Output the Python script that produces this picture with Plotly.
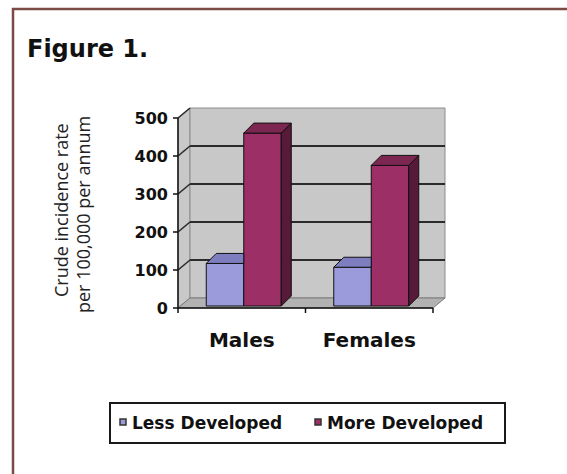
import plotly.graph_objects as go

# ---- data ----
categories = ["Males", "Females"]
series_names = ["Less Developed", "More Developed"]
less_developed = [112, 102]
more_developed = [455, 370]
y_ticks = [0, 100, 200, 300, 400, 500]
y_title_lines = ["Crude incidence rate", "per 100,000 per annum"]
figure_title = "Figure 1."

series_values = [less_developed, more_developed]

# ---- styling ----
FRONT = ["#9b9bdb", "#9b2f66"]
TOP = ["#7d7dbf", "#7c2652"]
SIDE = ["#60609c", "#571a39"]
WALL = "#c8c8c8"
FLOOR = "#b2b2b2"
EDGE = "#111111"
BOLD_FONT = "DejaVu Sans"

W, H = 567, 474
# plot area (pixels)
PL, PR, PT, PB = 171, 460, 100, 316
# front-plane geometry (pixels)
AXIS_LEFT_PX = 178
CAT_PX = 127.5
Y0_PX = 308
PX_PER_UNIT = 0.38

x_range = [(PL - AXIS_LEFT_PX) / CAT_PX - 0.5, (PR - AXIS_LEFT_PX) / CAT_PX - 0.5]
y_range = [(Y0_PX - PB) / PX_PER_UNIT, (Y0_PX - PT) / PX_PER_UNIT]


def dxu(px):
    return px / CAT_PX


def dyu(px):
    return px / PX_PER_UNIT


def paper_x(px):
    return (px - PL) / (PR - PL)


def paper_y(py):
    return (PB - py) / (PB - PT)


# depth of the walls and of the columns
WALL_DX, WALL_DY = dxu(12), dyu(10)
BAR_OFF_X, BAR_OFF_Y = dxu(2), dyu(2)
BAR_DX, BAR_DY = dxu(10), dyu(10)
BAR_W = dxu(37.5)

XL, XR = -0.5, len(categories) - 0.5
YTOP = y_ticks[-1]

fig = go.Figure()
shapes = []

# side wall, back wall and floor
shapes.append(dict(type="path", layer="below", xref="x", yref="y",
                   path=f"M{XL},0 L{XL},{YTOP} L{XL + WALL_DX},{YTOP + WALL_DY} L{XL + WALL_DX},{WALL_DY} Z",
                   fillcolor=WALL, line=dict(color="#8c8c8c", width=1)))
shapes.append(dict(type="rect", layer="below", xref="x", yref="y",
                   x0=XL + WALL_DX, x1=XR + WALL_DX, y0=WALL_DY, y1=YTOP + WALL_DY,
                   fillcolor=WALL, line=dict(color="#8c8c8c", width=1)))
shapes.append(dict(type="path", layer="below", xref="x", yref="y",
                   path=f"M{XL},0 L{XR},0 L{XR + WALL_DX},{WALL_DY} L{XL + WALL_DX},{WALL_DY} Z",
                   fillcolor=FLOOR, line=dict(color="#7a7a7a", width=1)))

# gridlines on the back wall and their continuation across the side wall
for v in y_ticks:
    if 0 < v < YTOP:
        shapes.append(dict(type="line", layer="below", xref="x", yref="y",
                           x0=XL + WALL_DX, x1=XR + WALL_DX, y0=v + WALL_DY, y1=v + WALL_DY,
                           line=dict(color="#2b2b2b", width=2)))
    if v > 0:
        shapes.append(dict(type="line", layer="below", xref="x", yref="y",
                           x0=XL, x1=XL + WALL_DX, y0=v, y1=v + WALL_DY,
                           line=dict(color="#2b2b2b", width=1.6)))

# columns: front faces as bars, top and side faces as filled polygons
n_series = len(series_values)
for s, vals in enumerate(series_values):
    xs = [i + (s - (n_series - 1) / 2) * BAR_W + BAR_OFF_X for i in range(len(categories))]
    fig.add_trace(go.Bar(
        x=xs, y=vals, base=[BAR_OFF_Y] * len(vals), width=BAR_W,
        name=series_names[s], showlegend=False,
        marker=dict(color=FRONT[s], line=dict(color=EDGE, width=1)),
        hoverinfo="skip",
    ))

for s, vals in enumerate(series_values):
    for i, v in enumerate(vals):
        xc = i + (s - (n_series - 1) / 2) * BAR_W + BAR_OFF_X
        x0, x1 = xc - BAR_W / 2, xc + BAR_W / 2
        base = BAR_OFF_Y
        top = v + BAR_OFF_Y
        right_taller = s + 1 < n_series and series_values[s + 1][i] >= v
        if right_taller:
            tx = [x0, x1, x1, x0 + BAR_DX, x0]
            ty = [top, top, top + BAR_DY, top + BAR_DY, top]
        else:
            tx = [x0, x1, x1 + BAR_DX, x0 + BAR_DX, x0]
            ty = [top, top, top + BAR_DY, top + BAR_DY, top]
            fig.add_trace(go.Scatter(
                x=[x1, x1 + BAR_DX, x1 + BAR_DX, x1, x1],
                y=[base, base + BAR_DY, top + BAR_DY, top, base],
                fill="toself", fillcolor=SIDE[s], mode="lines",
                line=dict(color=EDGE, width=1), showlegend=False, hoverinfo="skip"))
        fig.add_trace(go.Scatter(
            x=tx, y=ty, fill="toself", fillcolor=TOP[s], mode="lines",
            line=dict(color=EDGE, width=1), showlegend=False, hoverinfo="skip"))

# front axes with tick marks
tick_x = dxu(5)
tick_y = dyu(5)
shapes.append(dict(type="line", layer="above", xref="x", yref="y",
                   x0=XL, x1=XL, y0=0, y1=YTOP, line=dict(color=EDGE, width=1.5)))
for v in y_ticks:
    shapes.append(dict(type="line", layer="above", xref="x", yref="y",
                       x0=XL - tick_x, x1=XL, y0=v, y1=v, line=dict(color=EDGE, width=1.5)))
shapes.append(dict(type="line", layer="above", xref="x", yref="y",
                   x0=XL, x1=XR, y0=0, y1=0, line=dict(color=EDGE, width=1.5)))
for k in range(len(categories) + 1):
    xt = XL + k
    shapes.append(dict(type="line", layer="above", xref="x", yref="y",
                       x0=xt, x1=xt, y0=0, y1=-tick_y, line=dict(color=EDGE, width=1.5)))

# legend box
shapes.append(dict(type="rect", xref="paper", yref="paper",
                   x0=paper_x(110), x1=paper_x(505), y0=paper_y(443), y1=paper_y(403),
                   line=dict(color="#1a1a1a", width=2), fillcolor="rgba(0,0,0,0)"))
legend_marker_px = [123, 318]
legend_text_px = [130, 325]
annotations = []
for s in range(n_series):
    cx, cy = legend_marker_px[s], 422
    shapes.append(dict(type="rect", xref="paper", yref="paper",
                       x0=paper_x(cx - 3), x1=paper_x(cx + 3),
                       y0=paper_y(cy + 3), y1=paper_y(cy - 3),
                       fillcolor=FRONT[s], line=dict(color="#333333", width=1.5)))
    annotations.append(dict(xref="paper", yref="paper", x=paper_x(legend_text_px[s]), y=paper_y(423),
                            xanchor="left", yanchor="middle", showarrow=False, text=series_names[s],
                            font=dict(family=BOLD_FONT, size=17, color="#111111", weight="bold")))

# frame around the figure
shapes.append(dict(type="line", xref="paper", yref="paper",
                   x0=paper_x(13), x1=paper_x(13), y0=paper_y(8), y1=paper_y(H + 2),
                   line=dict(color="#7b4a44", width=2.5)))
shapes.append(dict(type="line", xref="paper", yref="paper",
                   x0=paper_x(12), x1=paper_x(W + 2), y0=paper_y(9), y1=paper_y(9),
                   line=dict(color="#7b4a44", width=2.5)))

# title
annotations.append(dict(xref="paper", yref="paper", x=paper_x(25), y=paper_y(49),
                        xanchor="left", yanchor="middle", showarrow=False, text=figure_title,
                        font=dict(family=BOLD_FONT, size=24, color="#111111", weight="bold")))

# y-axis title, two rotated lines
for text, cx, cy in zip(y_title_lines, [61, 83], [210, 215]):
    annotations.append(dict(xref="paper", yref="paper", x=paper_x(cx), y=paper_y(cy),
                            xanchor="center", yanchor="middle", showarrow=False, text=text,
                            textangle=-90,
                            font=dict(family="Open Sans", size=18, color="#222222")))

fig.update_layout(
    width=W, height=H,
    margin=dict(l=PL, r=W - PR, t=PT, b=H - PB, pad=0),
    paper_bgcolor="white", plot_bgcolor="white",
    showlegend=False, barmode="overlay",
    shapes=shapes, annotations=annotations,
    xaxis=dict(range=x_range, tickvals=list(range(len(categories))), ticktext=categories,
               showgrid=False, zeroline=False, showline=False, ticks="",
               ticklabelstandoff=10,
               tickfont=dict(family=BOLD_FONT, size=20, color="#111111", weight="bold"),
               fixedrange=True),
    yaxis=dict(range=y_range, tickvals=y_ticks, showgrid=False, zeroline=False,
               showline=False, ticks="", ticklabelstandoff=2,
               tickfont=dict(family=BOLD_FONT, size=16, color="#111111", weight="bold"),
               fixedrange=True),
)

fig.write_html("out.html")
